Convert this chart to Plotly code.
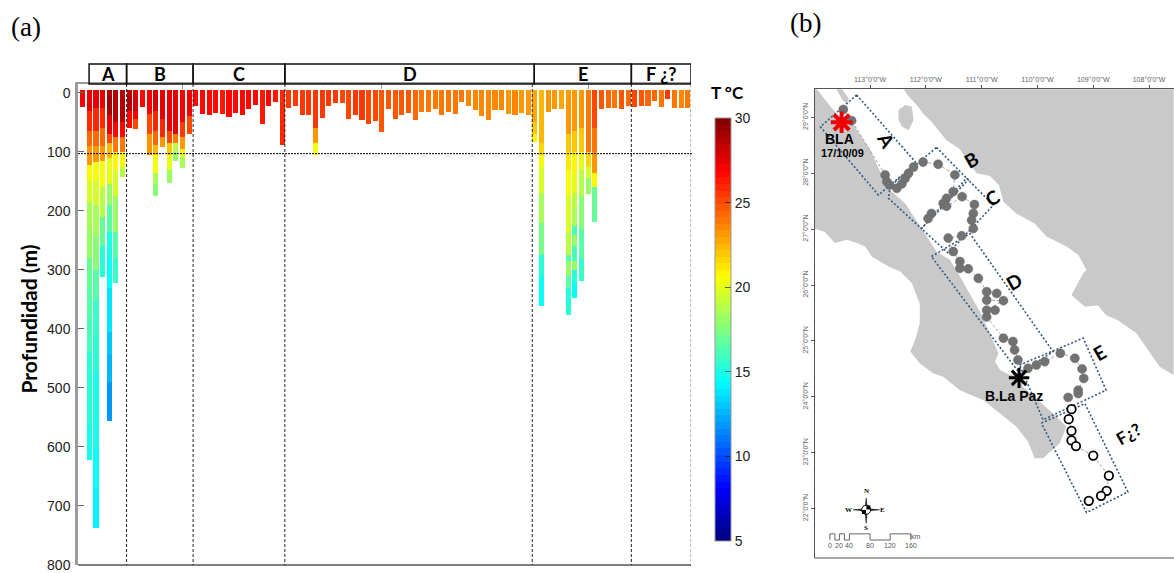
import plotly.graph_objects as go
import numpy as np

W, H = 1174, 573

# ---------- panel (a) data ----------
dive_depths = [24,622,738,312,556,322,143,60,62,24,106,175,92,152,116,127,70,23,36,38,34,35,41,34,38,28,20,52,23,16,88,
               25,23,38,38,106,42,23,18,18,44,38,46,52,47,67,28,44,38,34,46,33,33,28,38,33,35,15,23,29,40,46,29,29,36,38,34,38,83,
               361,32,27,27,376,347,319,171,218,27,26,26,28,23,24,23,23,14,24,11,26,26,25]
dive_temps = [26.9,0,0,0,0,0,0,0,0,26.8,0,0,0,0,0,0,0,26.5,26.6,26.5,26.6,26.4,26.5,26.5,26.6,26.5,26.6,26.2,26.5,26.4,25.8,
              25.6,25.5,25.5,25.4,0,25.4,25.6,25.4,25.3,25.2,25.6,25.5,25.0,25.1,24.9,24.8,24.9,24.7,24.6,24.5,24.1,24.0,24.0,24.0,23.9,24.0,23.9,23.6,23.6,23.6,23.5,23.5,23.4,23.3,23.5,23.3,23.3,0,
              0,23.0,23.0,22.9,0,0,0,0,0,24.6,24.2,24.0,24.9,24.5,25.0,24.7,24.5,24.4,24.0,25.4,23.8,23.6,23.8]
deep_stops = {
    1: [30,65,90,122,150,185,230,280,330,380,440,500,560,622],
    2: [25,65,90,118,150,190,240,300,350,410,470,540,600,670,738],
    3: [25,60,90,115,160,210,260,312],
    4: [37,70,85,110,155,190,235,280,330,405,445,490,525,556],
    5: [50,75,100,130,175,235,280,322],
    6: [50,75,100,125,143],
    7: [30,60],
    8: [30,45,62],
    10: [35,70,106],
    11: [30,65,88,105,135,155,175],
    12: [45,75,92],
    13: [65,85,105,130,152],
    14: [70,85,100,116],
    15: [50,75,95,108,127],
    16: [40,70],
    35: [60,85,106],
    68: [50,70,83],
    69: [85,105,125,170,220,275,310,361],
    73: [70,100,130,175,235,275,285,310,330,376],
    74: [65,100,135,170,195,225,240,260,285,300,320,347],
    75: [60,100,130,175,230,280,319],
    76: [100,125,145,171],
    77: [60,100,135,160,218],
}
deep_temps = {
    1: [27.5,26,24.5,23,20.5,19.5,18.5,18,17,16.5,16,15.5,15.3,15],
    2: [27.5,26,24.5,23,20.5,19.5,18.5,17.5,16.5,15.8,15.3,15,14.8,14.5,14.3],
    3: [27.5,26,24.5,23,20.5,19,17,15.5],
    4: [29,27.5,25,22.5,20,18,16.5,15,14.5,13.8,13,12.5,12,11.8],
    5: [28.5,26.5,24,21,19.5,18,16.5,15.8],
    6: [28.5,26.5,24,21,19],
    7: [28.5,26.5],
    8: [28,27,25],
    10: [27,25,23],
    11: [27.8,26,24.5,22.5,20.5,18.5,17.5],
    12: [27.5,26,23],
    13: [27.5,25,22,20,18],
    14: [27.5,24,19,18],
    15: [27.2,25.5,23,20.5,18.5],
    16: [27,25],
    35: [25.5,23,20.5],
    68: [22.8,22,21],
    69: [22.5,21.5,20.5,19.5,18.5,17.3,15.3,14.4],
    73: [23,22,21.3,20.5,19.5,19,16.5,18,16.5,15.5],
    74: [23,22,21,20,19,18.5,16,18,16,18,15.5,14.5],
    75: [23.2,22,20,18.8,17.5,16.5,15.7],
    76: [24,21.5,19.5,18],
    77: [25,24,23,21,17],
}
surface_top = -5
section_names = ["A", "B", "C", "D", "E", "F ¿?"]
section_edges = [0.96, 6.6, 16.6, 30.4, 67.9, 82.5, 91.47]
line_edges = [6.6, 16.6, 30.4, 67.6, 82.5, 91.5]
depth_ticks = [0,100,200,300,400,500,600,700,800]
temp_ticks = [5,10,15,20,25,30]
jet_pos = [0, .125, .375, .625, .875, 1]
jet_rgb = [(0,0,127),(0,0,255),(0,255,255),(255,255,0),(255,0,0),(127,0,0)]

levels = 64
colorscale = []
for k in range(levels):
    f = (k + .5) / levels
    c = [int(np.interp(f, jet_pos, [p[j] for p in jet_rgb])) for j in range(3)]
    col = f"rgb({c[0]},{c[1]},{c[2]})"
    colorscale += [[k / levels, col], [(k + 1) / levels, col]]

seg_x, seg_base, seg_h, seg_t = [], [], [], []
for i, d in enumerate(dive_depths):
    stops = deep_stops.get(i, [d])
    temps = deep_temps.get(i, [dive_temps[i]])
    top = surface_top
    for s, t in zip(stops, temps):
        seg_x.append(i); seg_base.append(top); seg_h.append(s - top); seg_t.append(t)
        top = s

# ---------- panel (b) data (lon / lat) ----------
lon_ticks = [-113,-112,-111,-110,-109,-108]
lat_ticks = [22,23,24,25,26,27,28,29]
main_lon = [-112.40,-112.33,-112.14,-112.05,-111.90,-111.63,-111.39,-111.27,-111.09,-110.85,-110.69,-110.61,-110.38,-110.05,-109.84,-109.48,-109.27,-109.12,-109.18,-109.39,-109.15,-108.92,-108.77,-108.56,-108.23,-108.02,-107.81,-107.56,-107.56]
main_lat = [29.50,29.40,29.19,29.07,28.92,28.59,28.43,28.24,28.00,27.95,27.79,27.49,27.28,27.10,26.87,26.69,26.54,26.27,26.21,25.82,25.61,25.64,25.46,25.37,25.14,24.84,24.54,24.39,29.50]
isle_lon = [-112.49,-112.37,-112.25,-112.22,-112.31,-112.43,-112.49]
isle_lat = [29.13,29.22,29.19,28.95,28.77,28.83,28.95]
isle2_lon = [-113.60,-113.50,-113.38,-113.42,-113.50]
isle2_lat = [29.50,29.50,29.33,29.24,29.32]
baja_lon = [-114.00,-113.95,-113.78,-113.60,-113.30,-113.15,-113.00,-112.79,-112.64,-112.37,-112.14,-111.81,-111.57,-111.42,-111.15,-111.03,-110.91,-110.70,-110.76,-110.67,-110.50,-110.32,-110.26,-110.05,-109.84,-109.66,-109.48,-109.60,-109.90,-110.05,-110.17,-110.38,-110.97,-111.39,-111.69,-111.87,-112.11,-112.28,-112.19,-112.11,-112.11,-112.25,-112.46,-112.67,-112.97,-113.09,-113.24,-113.42,-113.63,-113.81,-114.00]
baja_lat = [29.50,29.50,29.28,29.07,28.86,28.65,28.42,27.97,27.70,27.46,27.10,26.60,26.45,26.21,25.73,25.52,25.26,24.78,24.63,24.48,24.39,24.42,24.18,24.00,23.82,23.65,23.47,23.17,22.90,22.90,23.20,23.47,23.94,24.12,24.36,24.42,24.60,24.81,25.02,25.31,25.67,26.03,26.24,26.33,26.51,26.69,26.75,26.81,26.75,26.95,27.01]
box_lons = [[-113.24,-112.17,-112.85,-113.89,-113.24],
            [-111.81,-111.24,-112.08,-112.67,-112.64,-111.81],
            [-111.27,-110.79,-111.60,-112.08,-111.27],
            [-111.90,-111.21,-109.72,-110.32,-111.90],
            [-110.32,-109.18,-108.77,-109.90,-110.32],
            [-109.93,-109.15,-108.38,-109.12,-109.93]]
box_lats = [[29.40,28.18,27.61,28.83,29.40],
            [28.46,27.88,27.01,27.55,27.77,28.46],
            [27.91,27.43,26.57,27.01,27.91],
            [26.51,26.92,24.81,24.42,26.51],
            [24.57,25.05,24.12,23.59,24.57],
            [23.53,23.88,22.30,21.93,23.53]]
track_lon = [-113.48,-113.33,-112.73,-112.70,-112.65,-112.52,-112.43,-112.37,-112.31,-112.22,-112.05,-111.78,-111.48,-111.51,-111.63,-111.69,-111.63,-111.90,-111.96,-111.35,-111.13,-111.15,-111.18,-111.15,-111.36,-111.60,-111.51,-111.39,-111.39,-111.24,-111.06,-110.91,-110.73,-110.91,-110.61,-110.91,-110.76,-110.91,-110.61,-110.44,-110.41,-110.35,-110.17,-110.02,-109.87,-109.59,-109.33,-109.20,-109.17,-109.27,-109.27,-109.45]
track_lat = [29.14,28.94,27.97,27.85,27.79,27.73,27.81,27.91,28.00,28.11,28.20,28.16,27.97,27.67,27.55,27.46,27.41,27.28,27.19,27.58,27.44,27.28,27.16,27.01,26.88,26.84,26.60,26.42,26.30,26.29,26.12,25.88,25.85,25.73,25.72,25.55,25.55,25.43,25.05,24.99,24.84,24.66,24.51,24.57,24.63,24.78,24.69,24.50,24.33,24.12,24.06,23.99]
open_lon = [-109.39,-109.44,-109.39,-109.39,-109.31,-109.00,-108.72,-108.76,-108.86,-109.08]
open_lat = [23.78,23.60,23.39,23.22,23.12,22.95,22.59,22.32,22.23,22.14]
scale_lon = [-113.72,-113.72,-113.63,-113.63,-113.55,-113.55,-113.46,-113.46,-113.37,-113.37,-113.00,-113.00,-112.64,-112.64,-112.27,-112.27]
scale_lat = [21.44,21.55,21.55,21.44,21.44,21.55,21.55,21.44,21.44,21.55,21.55,21.44,21.44,21.55,21.55,21.44]
scale_label_lon = [-113.72,-113.55,-113.37,-113.00,-112.64,-112.27]
scale_labels = ["0","20","40","80","120","160"]
compass_lon = [-113.07,-113.05,-112.83,-113.05,-113.07,-113.09,-113.30,-113.09,-113.07]
compass_lat = [22.19,22.00,21.98,21.96,21.74,21.96,21.98,22.00,22.19]

px = lambda v: v / W
py = lambda v: 1 - v / H

fig = go.Figure()
fig.add_trace(go.Bar(
    x=seg_x, base=seg_base, y=seg_h, width=0.76, xaxis="x", yaxis="y", showlegend=False,
    marker=dict(color=seg_t, cmin=5, cmax=30, colorscale=colorscale, line=dict(width=0),
                colorbar=dict(x=px(715), xanchor="left", y=py(118), yanchor="top",
                              lenmode="pixels", len=423, thicknessmode="pixels", thickness=16,
                              xpad=0, ypad=0, outlinecolor="#999999", outlinewidth=1,
                              tickvals=temp_ticks, ticks="inside", ticklen=6, tickwidth=1,
                              tickcolor="rgba(0,0,0,0.6)",
                              tickfont=dict(family="Liberation Sans", size=14, color="#222222"))),
))

def line(lons, lats, **kw):
    fig.add_trace(go.Scatter(x=lons, y=lats, xaxis="x2", yaxis="y2", showlegend=False, hoverinfo="skip", **kw))

land = dict(mode="lines", line=dict(width=0), fill="toself", fillcolor="#c9c9c9")
line(main_lon, main_lat, **land)
line(isle_lon, isle_lat, **land)
line(isle2_lon, isle2_lat, **land)
line(baja_lon, baja_lat, **land)
for bx, by in zip(box_lons, box_lats):
    line(bx, by, mode="lines", line=dict(color="#34587f", width=1.6, dash="2px,2px"))
line(track_lon, track_lat, mode="lines+markers", line=dict(color="#8a8a8a", width=0.8, dash="3px,2px"),
     marker=dict(size=9, color="#727272", line=dict(color="#666666", width=0.5)))
line(open_lon, open_lat, mode="lines+markers", line=dict(color="#8a8a8a", width=0.8, dash="3px,2px"),
     marker=dict(size=8.5, color="white", line=dict(color="black", width=1.8)))
line([-113.51], [28.91], mode="markers",
     marker=dict(symbol="asterisk", size=18, color="#ee0000", line=dict(color="#ee0000", width=4)))
line([-110.33], [24.34], mode="markers",
     marker=dict(symbol="asterisk", size=17, color="black", line=dict(color="black", width=3)))
line(scale_lon, scale_lat, mode="lines", line=dict(color="#666666", width=1))
line(compass_lon, compass_lat, mode="lines", line=dict(color="black", width=0.5), fill="toself", fillcolor="#222222")
line([-113.07], [21.98], mode="markers", marker=dict(size=9, color="white", line=dict(color="black", width=1)))
line([-113.03, -113.11], [22.02, 21.94], mode="markers", marker=dict(symbol="square", size=4, color="black"))

shapes = []
for e in line_edges:
    shapes.append(dict(type="line", xref="x", yref="paper", x0=e, x1=e, y0=py(84), y1=py(565),
                       line=dict(color="#222222", width=1, dash="3px,2px"), layer="above"))
shapes.append(dict(type="line", xref="paper", yref="y", x0=px(78), x1=px(693), y0=103, y1=103,
                   line=dict(color="black", width=1, dash="2px,1px"), layer="above"))
shapes.append(dict(type="line", xref="paper", yref="paper", x0=px(78), x1=px(691), y0=py(565), y1=py(565),
                   line=dict(color="black", width=1)))
for a, b in zip(section_edges[:-1], section_edges[1:]):
    shapes.append(dict(type="rect", xref="x", yref="paper", x0=a, x1=b, y0=py(84), y1=py(64),
                       line=dict(color="#111111", width=1.5), layer="above"))

def note(text, x, y, size, family="Lato", bold=True, color="black", angle=0, xref="paper", yref="paper", **kw):
    t = f"<b>{text}</b>" if bold else text
    return dict(text=t, x=x, y=y, xref=xref, yref=yref, showarrow=False, textangle=angle,
                font=dict(family=family, size=size, color=color), xanchor="center", yanchor="middle", **kw)

ann = [note("(a)", px(26), py(27), 27, "Liberation Serif", False),
       note("(b)", px(805), py(23), 27, "Liberation Serif", False),
       note("Profundidad (m)", px(28), py(319.5), 21, angle=-90),
       note("T °C", px(727), py(92), 17)]
for name, a, b in zip(section_names, section_edges[:-1], section_edges[1:]):
    ann.append(note(name, (a + b) / 2, py(74.5), 18, xref="x"))
m = dict(xref="x2", yref="y2")
ann += [note("BLA", -113.55, 28.62, 14, "Liberation Sans", **m),
        note("17/10/09", -113.50, 28.37, 11, "Liberation Sans", **m),
        note("A", -112.70, 28.59, 19, angle=60, **m),
        note("B", -111.18, 28.24, 19, angle=-30, **m),
        note("C", -110.81, 27.56, 19, angle=-30, **m),
        note("D", -110.42, 26.06, 19, angle=-30, **m),
        note("E", -108.89, 24.79, 19, angle=-30, **m),
        note("F¿?", -108.36, 23.34, 17, angle=-30, **m),
        note("B.La Paz", -110.42, 24.01, 14, "Liberation Sans", **m),
        note("km", -112.18, 21.50, 7, "Liberation Sans", False, "#555555", **m),
        note("N", -113.07, 22.31, 7, "Liberation Serif", True, **m),
        note("S", -113.07, 21.65, 7, "Liberation Serif", True, **m),
        note("E", -112.78, 21.98, 7, "Liberation Serif", True, **m),
        note("W", -113.39, 21.98, 7, "Liberation Serif", True, **m)]
for lon, lab in zip(scale_label_lon, scale_labels):
    ann.append(note(lab, lon, 21.34, 7, "Liberation Sans", False, "#555555", **m))

fig.update_layout(
    width=W, height=H, margin=dict(l=0, r=0, t=0, b=0, autoexpand=False), paper_bgcolor="white", plot_bgcolor="rgba(0,0,0,0)",
    barmode="overlay", bargap=0, shapes=shapes, annotations=ann,
    xaxis=dict(domain=[px(78), px(691)], range=[-0.707, 91.47], anchor="y", side="top", showline=True,
               linecolor="#9a9a9a", linewidth=2, showgrid=False, zeroline=False, ticks="inside", ticklen=5,
               tickcolor="#9a9a9a", tickvals=[15, 45, 76], showticklabels=False),
    yaxis=dict(domain=[py(565), py(84)], range=[800, -15], anchor="x", showline=True, linecolor="#9a9a9a",
               linewidth=2.5, showgrid=False, zeroline=False, ticks="inside", ticklen=6, tickcolor="#666666",
               tickvals=depth_ticks, ticklabelstandoff=2, tickfont=dict(family="Liberation Sans", size=14, color="#222222")),
    xaxis2=dict(domain=[px(814.5), 1], range=[-113.996, -107.553], anchor="y2", side="top", showline=True,
                linecolor="#555555", linewidth=1, showgrid=False, zeroline=False, ticks="outside", ticklen=3,
                tickcolor="#555555", tickvals=lon_ticks, ticktext=[f"{abs(v)}°0'0\"W" for v in lon_ticks],
                tickfont=dict(family="Liberation Sans", size=7, color="#666666")),
    yaxis2=dict(domain=[py(558), py(89)], range=[21.118, 29.506], anchor="x2", showline=True,
                linecolor="#555555", linewidth=1, showgrid=False, zeroline=False, ticks="outside", ticklen=3,
                tickcolor="#555555", tickvals=lat_ticks, ticktext=[f"{v}°0'0\"N" for v in lat_ticks], tickangle=-90,
                tickfont=dict(family="Liberation Sans", size=7, color="#666666")),
)
# bottom line of the map
fig.add_shape(type="line", xref="x2", yref="paper", x0=-113.996, x1=-107.553, y0=py(558), y1=py(558),
              line=dict(color="#555555", width=1))
fig.write_html("out.html", config=dict(displayModeBar=False),
               post_script="document.body.style.margin='0';document.documentElement.style.overflow='hidden';")
